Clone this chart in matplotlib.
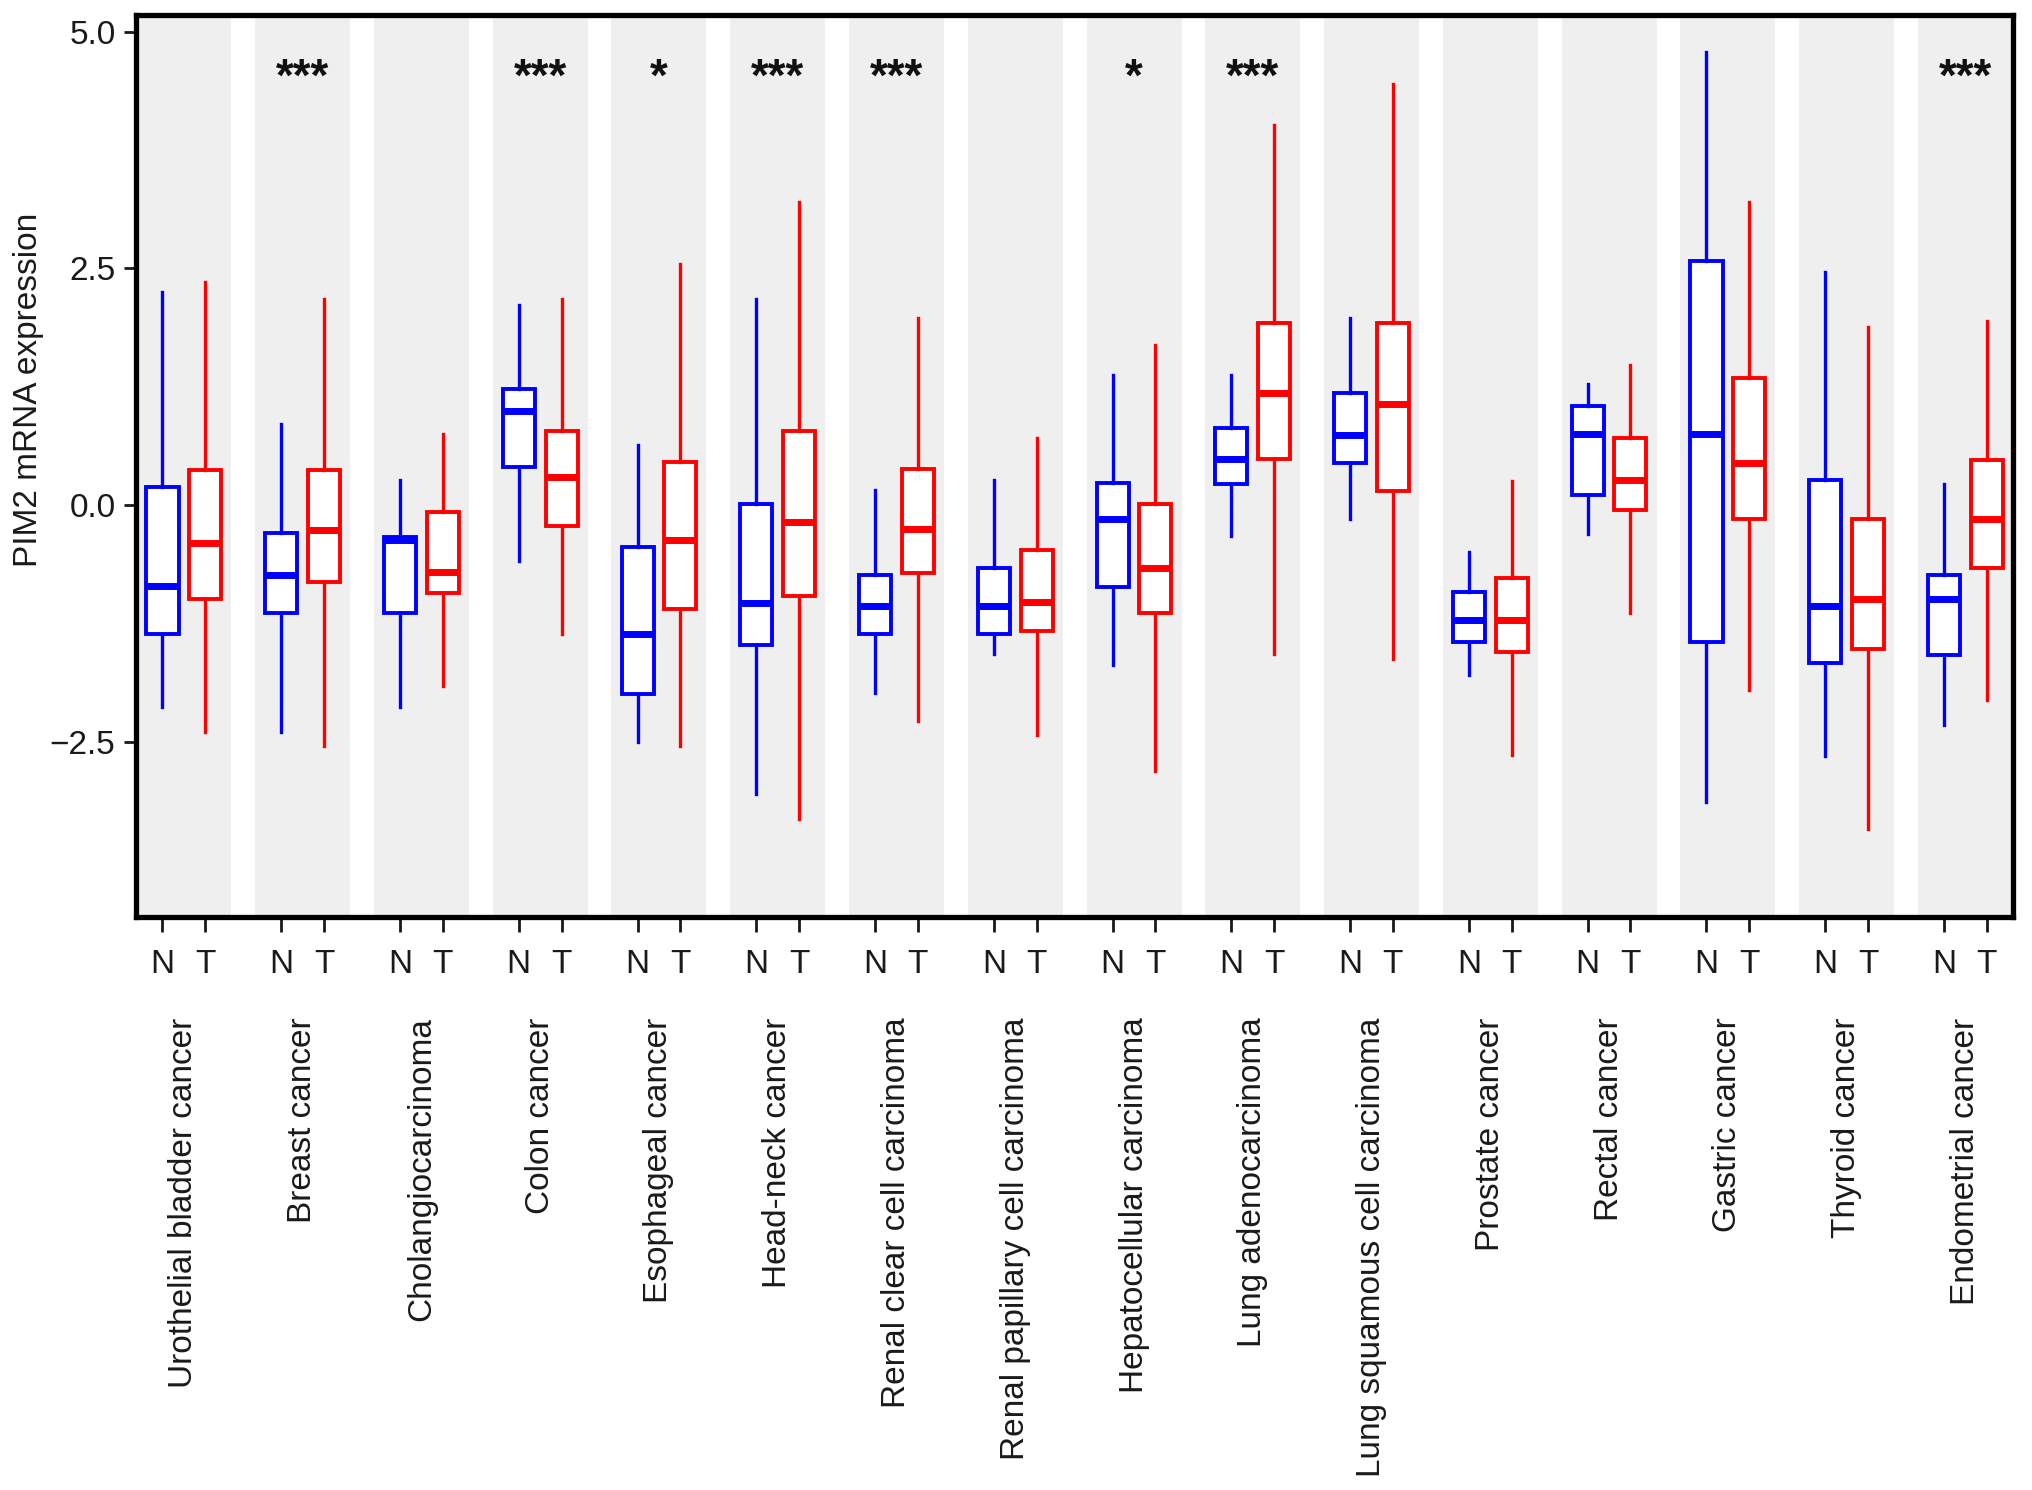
import matplotlib
matplotlib.use('Agg')
import matplotlib.pyplot as plt
import matplotlib.transforms as mtransforms

plt.rcParams['font.family'] = ['Liberation Sans', 'DejaVu Sans']

# Cancer types (one group per type)
cancers = ['Urothelial bladder cancer', 'Breast cancer', 'Cholangiocarcinoma', 'Colon cancer',
           'Esophageal cancer', 'Head-neck cancer', 'Renal clear cell carcinoma',
           'Renal papillary cell carcinoma', 'Hepatocellular carcinoma', 'Lung adenocarcinoma',
           'Lung squamous cell carcinoma', 'Prostate cancer', 'Rectal cancer', 'Gastric cancer',
           'Thyroid cancer', 'Endometrial cancer']

# Normal tissue (N): whisker low, Q1, median, Q3, whisker high
normal_lo = [-2.13, -2.39, -2.13, -0.59, -2.50, -3.05, -1.98, -1.57, -1.69, -0.32, -0.15, -1.79, -0.30, -3.13, -2.65, -2.32]
normal_q1 = [-1.36, -1.14, -1.14, 0.40, -1.99, -1.48, -1.36, -1.36, -0.86, 0.22, 0.45, -1.44, 0.11, -1.44, -1.66, -1.58]
normal_med = [-0.85, -0.74, -0.37, 1.00, -1.36, -1.03, -1.06, -1.06, -0.14, 0.49, 0.74, -1.21, 0.75, 0.75, -1.06, -0.99]
normal_q3 = [0.19, -0.29, -0.33, 1.23, -0.44, 0.01, -0.74, -0.66, 0.24, 0.82, 1.19, -0.92, 1.05, 2.58, 0.27, -0.74]
normal_hi = [2.25, 0.86, 0.27, 2.11, 0.64, 2.18, 0.16, 0.27, 1.37, 1.37, 1.98, -0.49, 1.28, 4.78, 2.46, 0.22]

# Tumour tissue (T)
tumor_lo = [-2.39, -2.54, -1.91, -1.36, -2.54, -3.31, -2.28, -2.43, -2.80, -1.57, -1.62, -2.64, -1.14, -1.95, -3.42, -2.06]
tumor_q1 = [-0.99, -0.81, -0.93, -0.22, -1.10, -0.96, -0.71, -1.33, -1.14, 0.49, 0.15, -1.55, -0.05, -0.15, -1.52, -0.66]
tumor_med = [-0.40, -0.26, -0.70, 0.30, -0.37, -0.18, -0.25, -1.02, -0.66, 1.19, 1.07, -1.21, 0.27, 0.45, -0.99, -0.14]
tumor_q3 = [0.37, 0.37, -0.07, 0.78, 0.46, 0.78, 0.38, -0.47, 0.01, 1.92, 1.92, -0.77, 0.71, 1.34, -0.15, 0.48]
tumor_hi = [2.36, 2.18, 0.75, 2.18, 2.55, 3.20, 1.98, 0.71, 1.69, 4.01, 4.45, 0.26, 1.48, 3.20, 1.88, 1.95]

signif = ['', '***', '', '***', '*', '***', '***', '', '*', '***', '', '', '', '', '', '***']

fig = plt.figure(figsize=(20.32, 14.9), dpi=100)
ax = fig.add_axes([0.0671, 0.3843, 0.9235, 0.6053])

n = len(cancers)
offset = 0.18
box_w = 0.27

# grey background band per cancer type
for i in range(n):
    ax.axvspan(i - 0.4, i + 0.4, color='#efefef', zorder=0, lw=0)


def make_stats(lo, q1, med, q3, hi):
    return [dict(whislo=a, q1=b, med=c, q3=d, whishi=e) for a, b, c, d, e in zip(lo, q1, med, q3, hi)]


groups = [
    (make_stats(normal_lo, normal_q1, normal_med, normal_q3, normal_hi), -offset, '#0000ff'),
    (make_stats(tumor_lo, tumor_q1, tumor_med, tumor_q3, tumor_hi), offset, '#ff0000'),
]
for stats, dx, col in groups:
    ax.bxp(stats, positions=[i + dx for i in range(n)], widths=box_w,
           showcaps=False, showfliers=False, patch_artist=True,
           boxprops=dict(facecolor='white', edgecolor=col, linewidth=2.8),
           whiskerprops=dict(color=col, linewidth=2.4),
           medianprops=dict(color=col, linewidth=5, solid_capstyle='butt'),
           zorder=3, manage_ticks=False)

# significance stars
for i, s in enumerate(signif):
    if s:
        ax.text(i, 4.5, s, ha='center', va='center', fontsize=33, fontweight='bold',
                color='#111111')

ax.set_xlim(-0.4, n - 0.6)
ax.set_ylim(-4.35, 5.17)
ax.set_yticks([-2.5, 0.0, 2.5, 5.0])
ax.set_yticklabels(['\u22122.5', '0.0', '2.5', '5.0'])

ticks = []
labels = []
for i in range(n):
    ticks += [i - offset, i + offset]
    labels += ['N', 'T']
ax.set_xticks(ticks)
ax.set_xticklabels(labels, fontsize=24, family=['Liberation Sans Narrow', 'Liberation Sans'])

ax.tick_params(axis='y', labelsize=24, length=9, width=2, colors='#1a1a1a', pad=6)
ax.tick_params(axis='x', length=11, width=2, colors='#1a1a1a', pad=12)

for sp in ax.spines.values():
    sp.set_linewidth(3.8)
    sp.set_color('black')

ax.set_ylabel('PIM2 mRNA expression', fontsize=24, color='#1a1a1a')
ax.yaxis.set_label_coords(-0.049, 0.585)

# cancer type names under the N/T labels
trans = mtransforms.blended_transform_factory(ax.transData, ax.transAxes)
for i, name in enumerate(cancers):
    ax.text(i, -0.111, name, rotation=90, ha='center', va='top', fontsize=24,
            color='#1a1a1a', transform=trans)

fig.savefig('out.png', dpi=100)
